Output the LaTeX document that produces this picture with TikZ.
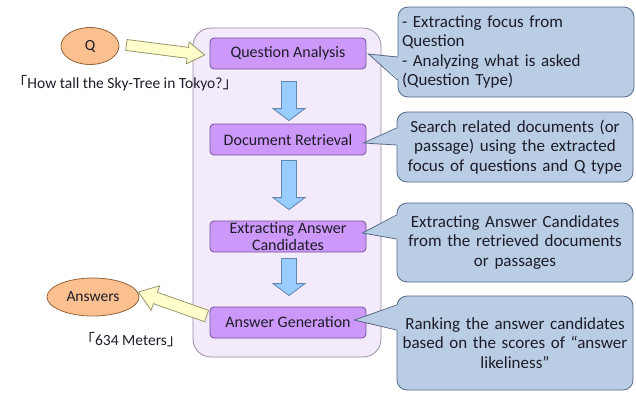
\documentclass[tikz,border=0pt]{standalone}
\usepackage{fontspec}
\setmainfont{Carlito}
\newfontfamily\cjk{Noto Sans CJK JP}
\usetikzlibrary{calc,positioning,shapes.geometric}

\definecolor{txt}{RGB}{30,28,40}
\definecolor{panelfill}{RGB}{243,234,251}
\definecolor{panelline}{RGB}{150,140,160}
\definecolor{stagefill}{RGB}{204,153,250}
\definecolor{stageline}{RGB}{120,80,150}
\definecolor{bluefill}{RGB}{153,204,255}
\definecolor{blueline}{RGB}{95,135,175}
\definecolor{yelfill}{RGB}{255,255,204}
\definecolor{yelline}{RGB}{150,150,105}
\definecolor{blobfill}{RGB}{250,192,143}
\definecolor{blobline}{RGB}{150,100,60}
\definecolor{callfill}{RGB}{185,205,228}
\definecolor{callline}{RGB}{85,105,135}

\tikzstyle{every node}+=[font=\fontsize{15.5}{19}\selectfont,text=txt,inner sep=0pt]
\tikzstyle{panel}=[rectangle,rounded corners=18pt,draw=panelline,fill=panelfill,line width=0.8pt]
\tikzstyle{stage}=[rectangle,rounded corners=4pt,draw=stageline,fill=stagefill,line width=0.8pt,minimum width=156pt,minimum height=31pt,align=center,font=\fontsize{16}{17}\selectfont]
\tikzstyle{bubble}=[rectangle,rounded corners=10pt,draw=callline,fill=callfill,line width=0.8pt,minimum width=236pt,text width=228pt,font=\fontsize{17}{19.5}\selectfont]
\tikzstyle{blob}=[ellipse,draw=blobline,fill=blobfill,line width=0.8pt]
\tikzstyle{bluearrow}=[draw=blueline,fill=bluefill,line width=0.8pt]
\tikzstyle{yelarrow}=[draw=yelline,fill=yelfill,line width=0.8pt]

% block arrow: style, from, to, shaft half width, head half width, head length
\newcommand{\fatarrow}[6][]{
	\draw[#1] let \p1=#2, \p2=#3,
		\n1={atan2(\y2-\y1,\x2-\x1)}, \n2={veclen(\x2-\x1,\y2-\y1)} in
		[shift={(\p1)},rotate=\n1]
		(0pt,#4pt) -- (\n2-#6pt,#4pt) -- (\n2-#6pt,#5pt) -- (\n2,0pt)
		-- (\n2-#6pt,-#5pt) -- (\n2-#6pt,-#4pt) -- (0pt,-#4pt) -- cycle;
}
% callout tail: tip, bubble, upper and lower end on its west side
\newcommand{\calltail}[4]{
	\fill[callfill] (#1) -- ($(#2.west)+(2,#3)$) -- ($(#2.west)+(2,#4)$) -- cycle;
	\draw[callline,line width=0.8pt,line join=miter] ($(#2.west)+(0,#3)$) -- (#1) -- ($(#2.west)+(0,#4)$);
}

\begin{document}
\begin{tikzpicture}[x=1pt,y=-1pt]
\useasboundingbox (0,0) rectangle (636,392);

% pipeline
\node[panel,minimum width=188pt,minimum height=329pt] (flow) at (287,192.5) {};

\node (ask) at (125,83) {{\cjk 「}How tall the Sky-Tree in Tokyo?{\cjk 」}};
\node (say) at (131,340) {{\cjk 「}634 Meters{\cjk 」}};

\node[stage] (qa) at (288,53.5) {Question Analysis};
\node[stage] (dr) at (288,139.5) {Document Retrieval};
\node[stage] (ea) at (288,236.5) {Extracting Answer\\Candidates};
\node[stage] (ag) at (288,322.5) {Answer Generation};

\foreach \a/\b/\s/\e in {qa/dr/12/3, dr/ea/5/11, ea/ag/6/11}{
	\fatarrow[bluearrow]{($(\a.south)+(1,\s)$)}{($(\b.north)+(1,-\e)$)}{7.5}{16}{12}
}

% question in, answer out
\node[blob,minimum width=58pt,minimum height=37pt] (q) at (90,46) {Q};
\node[blob,minimum width=92pt,minimum height=38pt] (ans) at (93,297) {Answers};
\fatarrow[yelarrow]{($(q.east)+(7,-1)$)}{($(qa.west)+(-5,1.5)$)}{5.5}{11}{17}
\fatarrow[yelarrow]{($(ag.west)+(-3,-6.5)$)}{($(ans.east)+(-1,-5)$)}{6}{13}{18}

% notes
\node[bubble,align=left,minimum height=90pt] (c1) at (516,52)
	{- Extracting focus from\\Question\\- Analyzing what is asked\\(Question Type)};
\node[bubble,align=center,minimum height=70pt] (c2) at (515,147)
	{Search related documents (or\\passage) using the extracted\\focus of questions and Q type};
\node[bubble,align=center,minimum height=79pt] (c3) at (515,242.5)
	{Extracting Answer Candidates\\from the retrieved documents\\or passages};
\node[bubble,align=center,minimum height=94pt] (c4) at (515,343)
	{Ranking the answer candidates\\based on the scores of “answer\\likeliness”\\[2pt]};

\calltail{$(qa.east)+(2,0.5)$}{c1}{5}{28}
\calltail{$(dr.east)+(-3,3.5)$}{c2}{-19}{-2}
\calltail{$(ea.east)+(-4,-3.5)$}{c3}{-27.5}{-3.5}
\calltail{$(ag.east)+(-12,-2.5)$}{c4}{-38}{-13}

\end{tikzpicture}
\end{document}
